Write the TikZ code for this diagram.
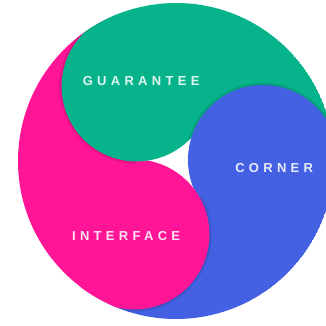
\documentclass[tikz,border=0pt]{standalone}
\usepackage{fontspec}
\setmainfont{Liberation Sans}
\usetikzlibrary{calc}
\definecolor{gr}{HTML}{07B38A}
\definecolor{bl}{HTML}{4361E2}
\definecolor{pk}{HTML}{FF1596}
\tikzset{
  lab/.style={text=white, text opacity=0.88, inner sep=0pt,
    font=\fontsize{13}{13}\selectfont\bfseries\addfontfeature{LetterSpace=33}},
  shade/.style={fill=black, opacity=0.06}
}
\begin{document}
\begin{tikzpicture}[x=1pt,y=1pt]
\useasboundingbox (0,0) rectangle (326,325);
\fill[white] (0,0) rectangle (326,325);
\clip (0,0) rectangle (326,325);
\coordinate (C) at (176,164);
\coordinate (G) at (136.6,238.6);
\coordinate (B) at (263,165);
\coordinate (P) at (134.4,90.6);
\begin{scope}
\clip (C) circle[radius=158pt];
% tails (wedges minus the centre triangle)
\def\gwedge{(B) -- ($(C)+(0.66:158pt)$) arc[start angle=0.66,end angle=117.84,radius=158pt] -- (G) -- cycle}
\def\pwedge{(G) -- ($(C)+(117.84:158pt)$) arc[start angle=117.84,end angle=240.46,radius=158pt] -- (P) -- cycle}
\def\bwedge{(P) -- ($(C)+(240.46:158pt)$) arc[start angle=240.46,end angle=360.66,radius=158pt] -- (B) -- cycle}
\fill[gr] \gwedge;
\fill[pk] \pwedge;
\fill[bl] \bwedge;
% blue head (over green tail)
\begin{scope}
\clip \gwedge;
\fill[shade] (B) circle[radius=77.5pt];
\fill[shade] (B) circle[radius=76.5pt];
\end{scope}
\fill[bl] (B) circle[radius=75pt];
% pink head over blue
\begin{scope}
\clip \bwedge;
\fill[shade] (P) circle[radius=77.5pt];
\fill[shade] (P) circle[radius=76.5pt];
\end{scope}
\fill[pk] (P) circle[radius=75pt];
% green head over pink
\begin{scope}
\clip \pwedge;
\fill[shade] (G) circle[radius=77.5pt];
\fill[shade] (G) circle[radius=76.5pt];
\end{scope}
\fill[gr] (G) circle[radius=75pt];
% blue head over green head
\begin{scope}
\clip (G) circle[radius=75pt];
\fill[shade] (B) circle[radius=77.5pt];
\fill[shade] (B) circle[radius=76.5pt];
\fill[bl] (B) circle[radius=75pt];
\end{scope}
\end{scope}
\node[lab] (guarantee) at (139,244) {GUARANTEE\kern-4.3pt};
\node[lab] (corner) at (272,157) {CORNER\kern-4.3pt};
\node[lab] (interface) at (124,88.5) {INTERFACE\kern-4.3pt};
\end{tikzpicture}
\end{document}
